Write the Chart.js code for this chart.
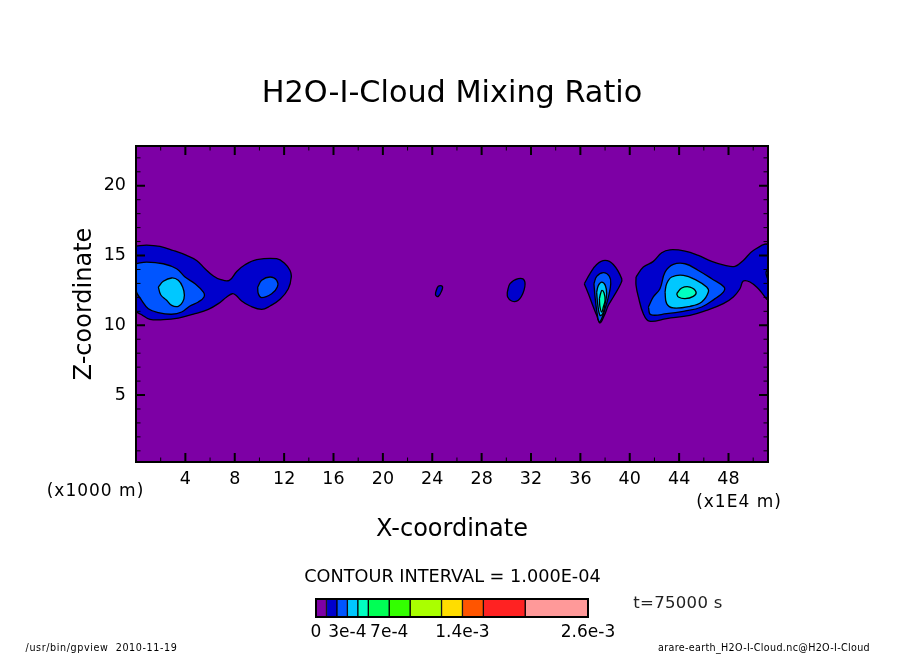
<!DOCTYPE html>
<html>
<head>
<meta charset="utf-8">
<title>H2O-I-Cloud Mixing Ratio</title>
<script src="https://cdn.jsdelivr.net/npm/chart.js@4"></script>
<style>
html,body{margin:0;padding:0;background:#fff;width:904px;height:654px;overflow:hidden}
canvas{position:absolute;display:block}
.t{position:absolute;transform:translate(-50%,-50%);white-space:pre;font-family:"DejaVu Sans",sans-serif;color:#000;line-height:1}
</style>
</head>
<body>
<canvas id="main" width="904" height="654" style="left:0;top:0;width:904px;height:654px"></canvas>
<canvas id="bar" width="340" height="50" style="left:300px;top:590px;width:340px;height:50px"></canvas>
<div class="t" style="left:452.5px;top:577px;font-size:17.7px">CONTOUR INTERVAL = 1.000E-04</div>
<div class="t" style="left:678px;top:603px;font-size:16.5px;letter-spacing:.3px;color:#222">t=75000 s</div>
<div class="t" style="left:95.5px;top:490px;font-size:17px;letter-spacing:1px">(x1000 m)</div>
<div class="t" style="left:739px;top:501px;font-size:17px;letter-spacing:1px">(x1E4 m)</div>
<div class="t" style="left:101.5px;top:648px;font-size:9.6px;letter-spacing:.6px">/usr/bin/gpview  2010-11-19</div>
<div class="t" style="left:764px;top:648px;font-size:9.6px;letter-spacing:.32px">arare-earth_H2O-I-Cloud.nc@H2O-I-Cloud</div>
<script>
const titleText = "H2O-I-Cloud Mixing Ratio";
const xAxisTitle = "X-coordinate";
const zAxisTitle = "Z-coordinate";
const xRange = [0, 51.2];
const zRange = [0.2, 22.85];
const xTickValues = [2,4,6,8,10,12,14,16,18,20,22,24,26,28,30,32,34,36,38,40,42,44,46,48,50];
const xTickLabels = [4,8,12,16,20,24,28,32,36,40,44,48];
const zTickValues = [1,2,3,4,5,6,7,8,9,10,11,12,13,14,15,16,17,18,19,20,21,22];
const zTickLabels = [5,10,15,20];

const levelValues = [0,1e-4,2e-4,3e-4,4e-4,5e-4,7e-4,9e-4,12e-4,14e-4,16e-4,20e-4,26e-4];
const levelColors = ["#7d00a5","#0000cc","#0055ff","#00c8ff","#00ffc0","#00ff55","#33ff00","#aaff00","#ffdd00","#ff5500","#ff2222","#ff9999"];
const barTickValues = [0,3e-4,7e-4,14e-4,26e-4];
const barTickLabels = ["0","3e-4","7e-4","1.4e-3","2.6e-3"];

const domainBackground = [[0,0.2],[51.2,0.2],[51.2,22.85],[0,22.85]];

const westOuter = [[0,15.67],[0.86,15.75],[1.94,15.65],[3.02,15.36],[4.10,15.01],[4.91,14.65],[5.59,14.05],[6.27,13.53],[6.81,13.29],[7.56,13.22],[8.16,13.86],[8.83,14.34],[9.78,14.70],[11.40,14.77],[12.07,14.41],[12.48,13.93],[12.58,13.46],[12.34,12.62],[11.67,11.86],[10.86,11.38],[10.18,11.14],[9.24,11.38],[8.56,11.74],[8.10,12.15],[7.80,12.26],[7.35,12.03],[6.67,11.55],[5.86,11.14],[4.78,10.83],[3.43,10.52],[2.21,10.40],[1.13,10.43],[0.46,10.76],[0,11.07]];
const westMiddle = [[0,14.41],[0.86,14.53],[2.21,14.41],[3.29,14.05],[3.97,13.46],[4.78,12.98],[5.46,12.38],[5.51,12.03],[5.05,11.67],[4.37,11.38],[3.70,10.95],[2.89,10.79],[1.81,10.91],[1.00,11.19],[0.46,11.79],[0,12.5]];
const westLobe = [[9.86,12.74],[10.18,13.22],[10.86,13.46],[11.40,13.22],[11.45,12.74],[10.99,12.26],[10.18,11.98],[9.91,12.26]];
const westInner = [[1.81,12.74],[2.21,13.15],[2.89,13.39],[3.43,13.22],[3.78,12.74],[3.92,12.15],[3.78,11.67],[3.43,11.36],[2.89,11.43],[2.48,11.79],[2.00,12.19]];

const smallSpeck = [[24.28,12.38],[24.49,12.79],[24.82,12.79],[24.76,12.46],[24.49,12.07],[24.28,12.15]];
const smallBlob = [[30.08,12.38],[30.30,12.98],[30.97,13.34],[31.46,13.22],[31.43,12.5],[30.97,11.79],[30.43,11.74],[30.11,12.03]];

const peakL1 = [[36.32,12.98],[36.78,13.70],[37.32,14.36],[38.00,14.65],[38.67,14.36],[39.35,13.34],[39.27,12.98],[38.67,12.03],[38.27,11.43],[37.94,10.71],[37.59,10.17],[37.32,10.71],[37.05,11.31],[36.65,12.26]];
const peakL2 = [[37.10,12.98],[37.32,13.5],[37.86,13.77],[38.35,13.5],[38.46,12.98],[38.27,12.03],[38.00,11.19],[37.73,10.48],[37.54,10.24],[37.38,10.71],[37.19,12.03]];
const peakL3 = [[37.32,12.38],[37.46,12.86],[37.73,13.1],[38.02,12.86],[38.13,12.26],[38.00,11.55],[37.81,10.83],[37.59,10.71],[37.40,11.55]];
const peakL4 = [[37.54,11.91],[37.65,12.31],[37.75,12.5],[37.92,12.31],[38.00,11.79],[37.86,11.31],[37.73,10.95],[37.59,11.31]];

const eastOuter = [[40.51,13.46],[41.10,14.17],[41.91,14.58],[42.59,15.2],[43.26,15.41],[44.48,15.32],[45.56,15.01],[46.64,14.58],[47.72,14.29],[48.53,14.22],[49.20,14.65],[50.01,15.36],[51.2,15.72],[51.2,11.91],[50.42,12.62],[49.74,13.1],[49.20,13.17],[48.93,12.62],[48.39,12.03],[47.58,11.55],[46.23,11.07],[44.88,10.71],[42.99,10.48],[41.59,10.29],[41.10,10.83],[40.70,12.03],[40.51,12.86]];
const eastEdge = [[51.2,14.05],[51.04,13.77],[51.2,13.34]];
const eastMiddle = [[41.51,11.31],[41.91,12.03],[42.45,12.62],[42.86,13.81],[43.53,14.36],[44.48,14.41],[45.56,13.93],[46.64,13.34],[47.64,12.74],[47.58,12.38],[46.91,11.91],[45.83,11.31],[44.34,11.0],[42.99,10.83],[41.70,10.76]];
const eastInner = [[42.86,12.38],[42.99,12.98],[43.40,13.46],[44.34,13.58],[45.42,13.22],[46.23,12.74],[46.37,12.38],[45.83,11.67],[44.88,11.36],[43.53,11.24],[42.99,11.55]];
const eastCore = [[43.80,12.26],[44.21,12.67],[44.88,12.74],[45.37,12.38],[45.15,12.07],[44.48,11.91],[43.94,12.03]];

const contourGroups = [
  {level:1, shapes:[westOuter, smallSpeck, smallBlob, peakL1, eastOuter]},
  {level:2, shapes:[westMiddle, westLobe, peakL2, eastMiddle, eastEdge]},
  {level:3, shapes:[westInner, peakL3, eastInner]},
  {level:4, shapes:[peakL4, eastCore]}
];

const toPoints = s => s.concat([s[0]]).map(p => ({x:p[0], y:p[1]}));
const shapeDataset = (s, color, order, width, tension) => ({
  type:"scatter", showLine:true, data:toPoints(s), fill:"shape",
  backgroundColor:color, borderColor:"#000", borderWidth:width, tension:tension,
  pointRadius:0, pointHoverRadius:0, order:order, label:""
});
const datasets = [shapeDataset(domainBackground, levelColors[0], 100, 0, 0)];
contourGroups.forEach(g => g.shapes.forEach(s => {
  datasets.push(shapeDataset(s, levelColors[g.level], 50 - g.level, 1.3, 0.4));
}));

const frameAndTicks = {
  id:"frameAndTicks",
  afterDatasetsDraw(chart){
    const {ctx, chartArea:a, scales:{x, y}} = chart;
    ctx.save();
    ctx.strokeStyle = "#000";
    xTickValues.forEach(v => {
      const major = xTickLabels.includes(v), len = major ? 9 : 4.5, px = x.getPixelForValue(v);
      ctx.lineWidth = major ? 2 : 1;
      ctx.beginPath();
      ctx.moveTo(px, a.bottom); ctx.lineTo(px, a.bottom - len);
      ctx.moveTo(px, a.top); ctx.lineTo(px, a.top + len);
      ctx.stroke();
    });
    zTickValues.forEach(v => {
      const major = zTickLabels.includes(v), len = major ? 9 : 4.5, py = y.getPixelForValue(v);
      ctx.lineWidth = major ? 2 : 1;
      ctx.beginPath();
      ctx.moveTo(a.left, py); ctx.lineTo(a.left + len, py);
      ctx.moveTo(a.right, py); ctx.lineTo(a.right - len, py);
      ctx.stroke();
    });
    ctx.lineWidth = 2;
    ctx.strokeRect(a.left, a.top, a.right - a.left, a.bottom - a.top);
    ctx.restore();
  }
};

const axisFont = {family:"'DejaVu Sans'", size:17.5};
new Chart(document.getElementById("main"), {
  data:{datasets},
  plugins:[frameAndTicks],
  options:{
    responsive:false, animation:false, events:[],
    layout:{padding:0},
    plugins:{
      legend:{display:false}, tooltip:{enabled:false},
      title:{display:true, text:titleText, color:"#000",
        font:{family:"'DejaVu Sans'", size:30.3, weight:"normal"},
        padding:{top:76,bottom:33.64}}
    },
    scales:{
      x:{type:"linear", min:xRange[0], max:xRange[1],
        afterBuildTicks:s => { s.ticks = xTickValues.map(v => ({value:v})); },
        afterFit:s => { s.height = 192; },
        grid:{display:false, drawTicks:false}, border:{display:false},
        ticks:{autoSkip:false, maxRotation:0, minRotation:0, color:"#000", font:axisFont, padding:7,
          callback:v => xTickLabels.includes(v) ? String(v) : ""},
        title:{display:true, text:xAxisTitle, color:"#000",
          font:{family:"'DejaVu Sans'", size:24}, padding:{top:0,bottom:110}}
      },
      y:{type:"linear", min:zRange[0], max:zRange[1],
        afterBuildTicks:s => { s.ticks = zTickValues.map(v => ({value:v})); },
        afterFit:s => { s.width = 136; },
        grid:{display:false, drawTicks:false}, border:{display:false},
        ticks:{autoSkip:false, color:"#000", font:axisFont, padding:10,
          callback:v => zTickLabels.includes(v) ? String(v) : ""},
        title:{display:true, text:zAxisTitle, color:"#000",
          font:{family:"'DejaVu Sans'", size:24}, padding:{top:70.5,bottom:0}}
      },
      yMirror:{type:"linear", position:"right", min:zRange[0], max:zRange[1],
        afterFit:s => { s.width = 136; },
        grid:{display:false, drawTicks:false}, border:{display:false},
        ticks:{display:false}
      }
    }
  }
});

const barFrame = {
  id:"barFrame",
  afterDatasetsDraw(chart){
    const {ctx, chartArea:a} = chart;
    ctx.save(); ctx.strokeStyle = "#000"; ctx.lineWidth = 2;
    ctx.strokeRect(a.left, a.top, a.right - a.left, a.bottom - a.top);
    ctx.restore();
  }
};
new Chart(document.getElementById("bar"), {
  type:"bar",
  data:{labels:[""], datasets:levelColors.map((c,i) => ({
    data:[[levelValues[i], levelValues[i+1]]], backgroundColor:c, borderColor:"#000", borderWidth:1,
    borderSkipped:false, barPercentage:1, categoryPercentage:1, grouped:false
  }))},
  plugins:[barFrame],
  options:{
    indexAxis:"y", responsive:false, animation:false, events:[],
    layout:{padding:{left:16,right:52,top:9,bottom:0}},
    plugins:{legend:{display:false}, tooltip:{enabled:false}, title:{display:false}},
    scales:{
      x:{type:"linear", min:0, max:26e-4,
        afterBuildTicks:s => { s.ticks = barTickValues.map(v => ({value:v})); },
        afterFit:s => { s.height = 23; },
        grid:{display:false, drawTicks:false}, border:{display:false},
        ticks:{autoSkip:false, maxRotation:0, minRotation:0, color:"#000",
          font:{family:"'DejaVu Sans'", size:17}, padding:5,
          callback:v => barTickLabels[barTickValues.indexOf(v)]}
      },
      y:{display:false}
    }
  }
});
</script>
</body>
</html>
